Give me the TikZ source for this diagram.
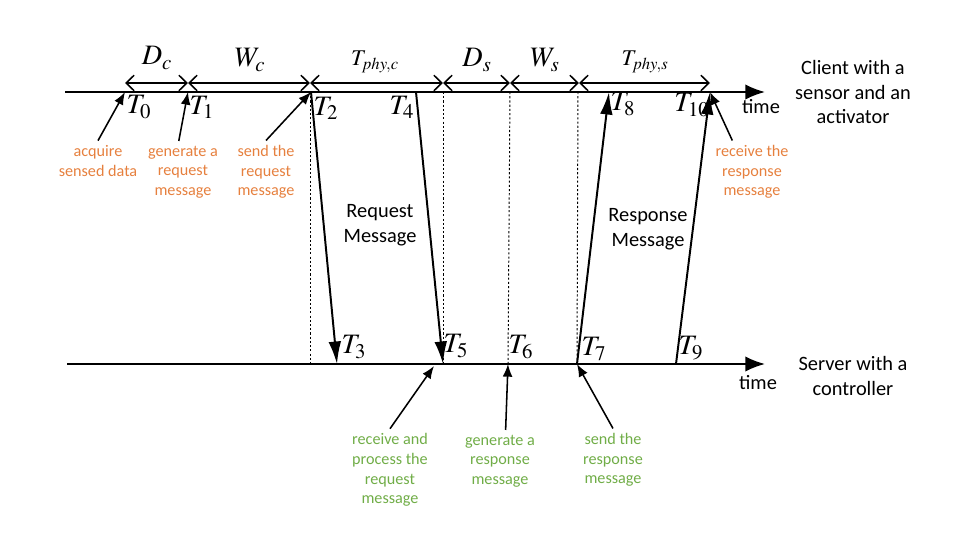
\documentclass[tikz,border=0pt]{standalone}
\usepackage{mathptmx}
\usepackage[no-math]{fontspec}
\setmainfont{Carlito}
\usetikzlibrary{arrows.meta}
\definecolor{clientnote}{RGB}{230,128,62}
\definecolor{servernote}{RGB}{112,173,71}

\begin{document}
\begin{tikzpicture}[x=0.025cm, y=-0.025cm,
    axis/.style={line width=1.4pt, -{Latex[length=14pt,width=11pt]}},
    msg/.style={line width=1.4pt, -{Latex[length=16pt,width=9pt]}},
    note/.style={line width=1.1pt, -{Latex[length=9pt,width=7pt]}},
    span/.style={line width=1.1pt, {Straight Barb[length=5.7pt,width=11pt]}-{Straight Barb[length=5.7pt,width=11pt]}},
    guide/.style={line width=0.7pt, dash pattern=on 1.5pt off 1.5pt},
    tlab/.style={font=\fontsize{20}{24}\selectfont},
    dlab/.style={font=\fontsize{20}{24}\selectfont},
    plab/.style={font=\fontsize{16}{19}\selectfont},
    cnote/.style={align=center, text=clientnote, font=\fontsize{11.5}{13.9}\selectfont},
    snote/.style={align=center, text=servernote, font=\fontsize{11.5}{13.9}\selectfont},
    big/.style={align=center, font=\fontsize{14.5}{17.7}\selectfont}]
    \useasboundingbox (0,0) rectangle (975,546);

    % time lines
    \coordinate (cl) at (65,92);
    \coordinate (cr) at (765,92);
    \coordinate (sl) at (67,364);
    \coordinate (sr) at (765,364);
    \draw[axis] (cl) -- (cr);
    \draw[axis] (sl) -- (sr);
    \node[big] (ctime) at (761,107) {time};
    \node[big] (stime) at (758,383) {time};
    \node[big] (client) at (853,92) {Client with a\\sensor and an\\activator};
    \node[big] (server) at (853,376) {Server with a\\controller};

    % events
    \coordinate (t0) at (125,92);
    \coordinate (t1) at (188,92);
    \coordinate (t2) at (311,92);
    \coordinate (t4) at (416,92);
    \coordinate (t8) at (609,92);
    \coordinate (t10) at (710,92);
    \coordinate (t3) at (337,364);
    \coordinate (t5) at (443,364);
    \coordinate (t6) at (508,364);
    \coordinate (t7) at (577,364);
    \coordinate (t9) at (676,364);
    \coordinate (r5) at (434,366);

    % intervals
    \foreach \a/\b in {125/188, 188/310, 310/443, 443/510, 510/579, 579/710}
        \draw[span] (\a,83) -- (\b,83);
    \node[dlab] (dc) at (157,58) {$D_c$};
    \node[dlab] (wc) at (250,60) {$W_c$};
    \node[plab] (pc) at (375,62) {$T_{phy,c}$};
    \node[dlab] (ds) at (477,60) {$D_s$};
    \node[dlab] (ws) at (545,60) {$W_s$};
    \node[plab] (ps) at (645,62) {$T_{phy,s}$};

    \foreach \a/\b in {310/310, 443/443, 510/508, 578/577}
        \draw[guide] (\a,92) -- (\b,364);

    % messages
    \draw[msg] (t2) -- (t3);
    \draw[msg] (t4) -- (t5);
    \draw[msg] (t7) -- (t8);
    \draw[msg] (t9) -- (t10);
    \node[big] (req) at (380,225) {Request\\Message};
    \node[big] (resp) at (648,229) {Response\\Message};

    \node[tlab] (lt0) at (139,107) {$T_0$};
    \node[tlab] (lt1) at (202,107) {$T_1$};
    \node[tlab] (lt2) at (326,108) {$T_2$};
    \node[tlab] (lt4) at (402,107) {$T_4$};
    \node[tlab] (lt8) at (623,104) {$T_8$};
    \node[tlab] (lt10) at (692,105) {$T_{10}$};
    \node[tlab] (lt3) at (354,347) {$T_3$};
    \node[tlab] (lt5) at (456,346) {$T_5$};
    \node[tlab] (lt6) at (521,347) {$T_6$};
    \node[tlab] (lt7) at (594,349) {$T_7$};
    \node[tlab] (lt9) at (691,348) {$T_9$};

    % notes
    \node[cnote] (n0) at (98,161) {acquire\\sensed data};
    \node[cnote] (n1) at (183,172) {generate a\\request\\message};
    \node[cnote] (n2) at (266,172) {send the\\request\\message};
    \node[cnote] (n10) at (752,172) {receive the\\response\\message};
    \node[snote] (n5) at (390,470) {receive and\\process the\\request\\message};
    \node[snote] (n6) at (500,461) {generate a\\response\\message};
    \node[snote] (n7) at (613,460) {send the\\response\\message};
    \draw[note] (n0.north) -- (t0);
    \draw[note] ([xshift=-3pt]n1.north) -- (t1);
    \draw[note] (n2.north) -- (t2);
    \draw[note] ([xshift=-14pt]n10.north) -- (t10);
    \draw[note] (n5.north) -- (r5);
    \draw[note] ([xshift=4pt]n6.north) -- (t6);
    \draw[note] (n7.north) -- (t7);
\end{tikzpicture}
\end{document}
